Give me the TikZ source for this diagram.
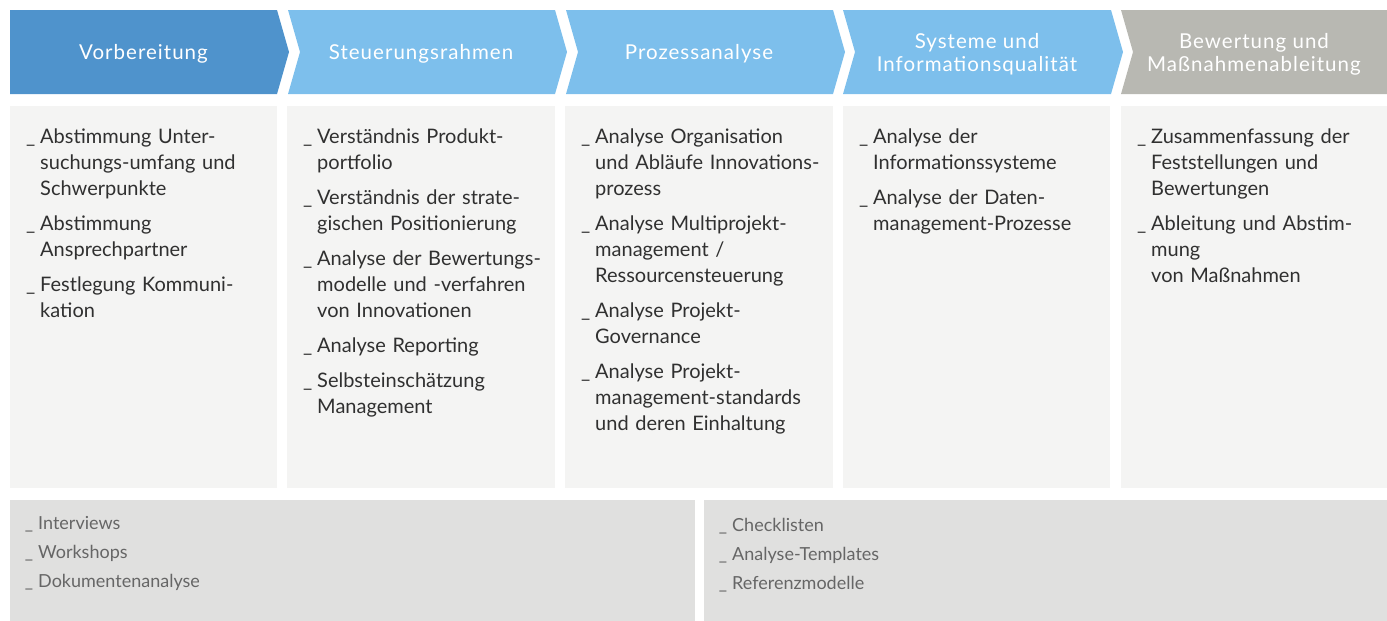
\documentclass[tikz,border=0pt]{standalone}
\usepackage{fontspec}
\setmainfont{Lato}
\newfontfamily\headfamily[LetterSpace=5]{Lato}
\definecolor{hdark}{HTML}{4F93CC}
\definecolor{hlight}{HTML}{7DBFEC}
\definecolor{hgrey}{HTML}{B8B8B2}
\definecolor{bodybg}{HTML}{F4F4F3}
\definecolor{toolbg}{HTML}{E0E0DF}
\definecolor{txt}{HTML}{303030}
\definecolor{tooltxt}{HTML}{666666}
\newcommand{\itm}{\makebox[0pt][r]{\_\hspace{5pt}}}
\tikzset{
  headtext/.style={anchor=north, inner sep=0pt, align=center, text=white,
    font=\headfamily\fontsize{20.5}{23}\selectfont},
  bodytext/.style={anchor=north west, inner sep=0pt, text width=250pt, align=left,
    text=txt, font=\fontsize{20}{26}\selectfont},
  tooltext/.style={anchor=north west, inner sep=0pt, text width=400pt, align=left,
    text=tooltxt, font=\fontsize{18}{29}\selectfont},
}
\begin{document}
\begin{tikzpicture}[x=1pt,y=-1pt]
\useasboundingbox (0,0) rectangle (1387,621);
% header chevrons
\fill[hdark] (10,10) -- (277,10) -- (289,52) -- (277,94) -- (10,94) -- cycle;
\fill[hlight] (288,10) -- (555,10) -- (567,52) -- (555,94) -- (288,94) -- (300,52) -- cycle;
\fill[hlight] (566,10) -- (833,10) -- (845,52) -- (833,94) -- (566,94) -- (578,52) -- cycle;
\fill[hlight] (843,10) -- (1111,10) -- (1123,52) -- (1111,94) -- (843,94) -- (855,52) -- cycle;
\fill[hgrey] (1121,10) -- (1387,10) -- (1387,94) -- (1121,94) -- (1133,52) -- cycle;
% header texts
\node[headtext] (h1) at (143.5,44) {Vorbereitung};
\node[headtext] (h2) at (421,44) {Steuerungsrahmen};
\node[headtext] (h3) at (699,44) {Prozessanalyse};
\node[headtext] (h4) at (977,33) {Systeme und\\Informationsqualität};
\node[headtext] (h5) at (1254,33) {Bewertung und\\Maßnahmenableitung};
% body columns
\fill[bodybg] (10,106) rectangle (277,488);
\fill[bodybg] (287,106) rectangle (555,488);
\fill[bodybg] (565,106) rectangle (833,488);
\fill[bodybg] (843,106) rectangle (1110,488);
\fill[bodybg] (1121,106) rectangle (1387,488);
\node[bodytext] (b1) at (40,129) {\itm Abstimmung Unter-\\suchungs-umfang und\\Schwerpunkte\\[9pt]
  \itm Abstimmung\\Ansprechpartner\\[9pt]
  \itm Festlegung Kommuni-\\kation};
\node[bodytext] (b2) at (317,129) {\itm Verständnis Produkt-\\portfolio\\[9pt]
  \itm Verständnis der strate-\\gischen Positionierung\\[9pt]
  \itm Analyse der Bewertungs-\\modelle und -verfahren\\von Innovationen\\[9pt]
  \itm Analyse Reporting\\[9pt]
  \itm Selbsteinschätzung\\Management};
\node[bodytext] (b3) at (595,129) {\itm Analyse Organisation\\und Abläufe Innovations-\\prozess\\[9pt]
  \itm Analyse Multiprojekt-\\management /\\Ressourcensteuerung\\[9pt]
  \itm Analyse Projekt-\\Governance\\[9pt]
  \itm Analyse Projekt-\\management-standards\\und deren Einhaltung};
\node[bodytext] (b4) at (873,129) {\itm Analyse der\\Informationssysteme\\[9pt]
  \itm Analyse der Daten-\\management-Prozesse};
\node[bodytext] (b5) at (1151,129) {\itm Zusammenfassung der\\Feststellungen und\\Bewertungen\\[9pt]
  \itm Ableitung und Abstim-\\mung\\von Maßnahmen};
% tool boxes
\fill[toolbg] (10,500) rectangle (695,621);
\fill[toolbg] (704,500) rectangle (1387,621);
\node[tooltext] (m1) at (38,516) {\itm Interviews\\\itm Workshops\\\itm Dokumentenanalyse};
\node[tooltext] (m2) at (732,518) {\itm Checklisten\\\itm Analyse-Templates\\\itm Referenzmodelle};
\end{tikzpicture}
\end{document}
